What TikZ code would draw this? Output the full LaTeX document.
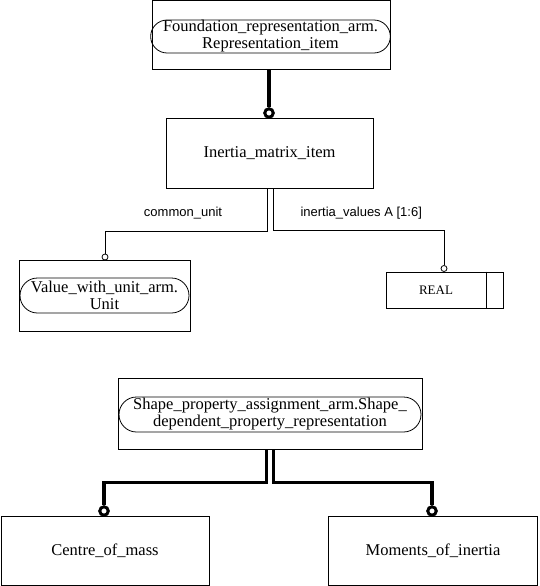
\documentclass[tikz,border=0pt]{standalone}
\usepackage{fontspec}
\setmainfont{Liberation Serif}
\setsansfont{Liberation Sans}
\usetikzlibrary{shapes.misc}

\begin{document}
\begin{tikzpicture}[x=1pt, y=-1pt,
  every node/.style={font=\fontsize{16.5}{17}\selectfont},
  entity/.style={draw, line width=0.8pt, rectangle, inner sep=0pt},
  pill/.style={draw, line width=0.8pt, rounded rectangle, inner sep=0pt, align=center},
  rel/.style={line width=0.8pt},
  super/.style={line width=3.5pt},
  ring/.style={circle, draw, line width=0.8pt, fill=white, inner sep=0pt, minimum size=6pt},
  bigring/.style={circle, draw, line width=3pt, fill=white, inner sep=0pt, minimum size=8.5pt},
  role/.style={font=\sffamily\fontsize{13}{15}\selectfont}]
  \def\ww{539} % picture width
  \def\hh{586} % picture height

  \useasboundingbox (0,0) rectangle (\ww,\hh);

  % ENTITIES
  \node [entity, minimum width=238, minimum height=69] (frep) at (271,35) {};
  \node [pill, minimum width=235, minimum height=33] (frepname) at (270.5,36.5)
    {Foundation\_representation\_arm.\\Representation\_item};

  \node [entity, minimum width=207, minimum height=70] (imi) at (269.5,153) {Inertia\_matrix\_item};

  \node [entity, minimum width=171, minimum height=71] (vwu) at (104.5,295.5) {};
  \node [pill, minimum width=169, minimum height=35] (vwuname) at (104.5,295.5)
    {Value\_with\_unit\_arm.\\Unit};

  \node [entity, minimum width=117, minimum height=36] (real) at (444.5,290) {};
  \node [font=\fontsize{13}{15}\selectfont] (realname) at (436,290) {REAL};
  \draw [rel] ([xshift=-17pt]real.north east) -- ([xshift=-17pt]real.south east);

  \node [entity, minimum width=304, minimum height=71] (spa) at (270,413.5) {};
  \node [pill, minimum width=302, minimum height=35] (spaname) at (270,414.5)
    {Shape\_property\_assignment\_arm.Shape\_\\dependent\_property\_representation};

  \node [entity, minimum width=208, minimum height=69] (com) at (105,550.5) {Centre\_of\_mass};
  \node [entity, minimum width=209, minimum height=69] (moi) at (433,550.5) {Moments\_of\_inertia};

  % RINGS
  \node [bigring] (r1) at (269,113) {};
  \node [ring]    (r2) at (105,257) {};
  \node [ring]    (r3) at (444,268.5) {};
  \node [bigring] (r4) at (104,511) {};
  \node [bigring] (r5) at (432,511) {};

  % SUPERTYPE LINES
  \draw [super] (r1.north |- frep.south) -- (r1.north);
  \draw [super] ([xshift=-3.5pt]spa.south) -- ++(0,33) -| (r4.north);
  \draw [super] ([xshift=3.5pt]spa.south) -- ++(0,33) -| (r5.north);

  % ATTRIBUTES
  \draw [rel] ([xshift=-2.5pt]imi.south) -- ++(0,43) -| (r2.north);
  \draw [rel] ([xshift=3.5pt]imi.south) -- ++(0,42) -| (r3.north);

  \node [role] (cuname) at (183,213) {common\_unit};
  \node [role, anchor=west] (ivname) at (297,213) {inertia\_values A [1:6]};

\end{tikzpicture}
\end{document}
